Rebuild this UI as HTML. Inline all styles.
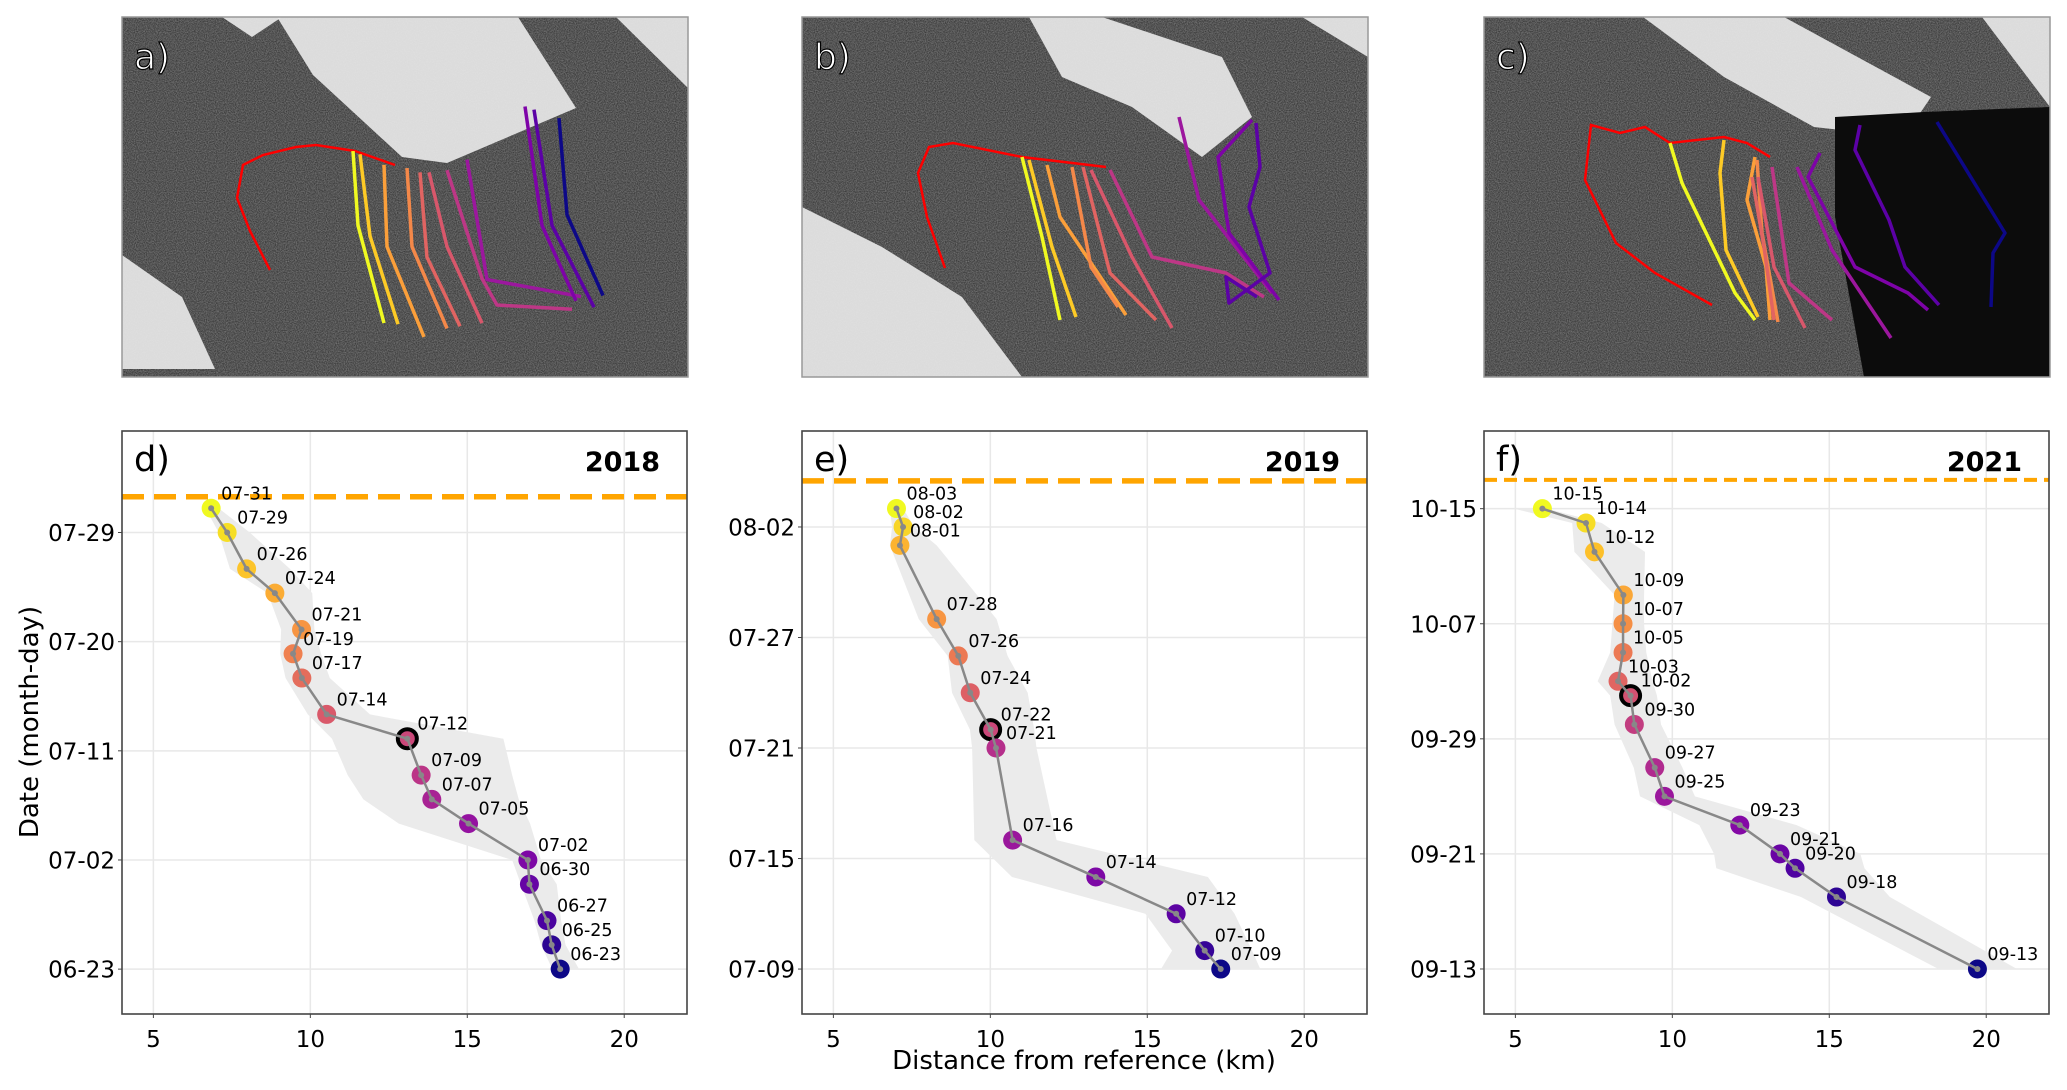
<!DOCTYPE html>
<html><head><meta charset="utf-8"><style>
html,body{margin:0;padding:0;background:#fff}
svg{display:block}
text{font-family:"DejaVu Sans","Liberation Sans",sans-serif}
</style></head><body>
<svg id="fig" width="2067" height="1090" viewBox="0 0 2067 1090" xmlns="http://www.w3.org/2000/svg">
<defs>
<filter id="grain" x="0" y="0" width="100%" height="100%">
<feTurbulence type="fractalNoise" baseFrequency="0.9" numOctaves="2" seed="3" result="n"/>
<feColorMatrix type="matrix" values="0 0 0 0 1  0 0 0 0 1  0 0 0 0 1  0 0 0 0.55 -0.12"/>
</filter>
<clipPath id="imgclip"><rect x="0" y="0" width="566" height="360"/></clipPath>
</defs>
<g id="images"></g>
<g id="charts"></g>
<text x="0" y="0" transform="translate(38,722) rotate(-90)" text-anchor="middle" font-size="26" fill="#000">Date (month-day)</text>
<text x="1084" y="1069" text-anchor="middle" font-size="26" fill="#000">Distance from reference (km)</text>
</svg>
<script>
// ---------- chart data ----------
const datesD = ["07-31","07-29","07-26","07-24","07-21","07-19","07-17","07-14","07-12","07-09","07-07","07-05","07-02","06-30","06-27","06-25","06-23"];
const distD  = [6.84,7.35,7.97,8.87,9.72,9.45,9.73,10.52,13.09,13.53,13.87,15.04,16.93,16.98,17.54,17.69,17.96];
const lowD   = [6.66,7.08,7.44,8.64,9.07,9.04,9.21,9.92,10.69,11.19,11.69,12.82,16.43,16.71,17.14,17.35,17.71];
const highD  = [7.08,8.07,9.35,10.06,10.13,10.34,10.62,11.9,16.15,16.43,16.64,17.0,17.35,17.85,17.99,18.13,18.56];
const ticksD = ["07-29","07-20","07-11","07-02","06-23"];

const datesE = ["08-03","08-02","08-01","07-28","07-26","07-24","07-22","07-21","07-16","07-14","07-12","07-10","07-09"];
const distE  = [7.01,7.22,7.12,8.29,8.98,9.36,10.01,10.18,10.71,13.36,15.92,16.83,17.34];
const lowE   = [6.80,6.87,6.80,7.72,8.64,8.78,9.35,9.42,9.49,10.69,14.94,15.79,15.44];
const highE  = [7.22,7.58,8.29,10.2,10.55,11.19,11.4,11.47,12.11,16.93,17.78,18.34,18.6];
const ticksE = ["08-02","07-27","07-21","07-15","07-09"];

const datesF = ["10-15","10-14","10-12","10-09","10-07","10-05","10-03","10-02","09-30","09-27","09-25","09-23","09-21","09-20","09-18","09-13"];
const distF  = [5.86,7.25,7.52,8.44,8.43,8.43,8.27,8.67,8.79,9.44,9.75,12.15,13.43,13.91,15.23,19.72];
const lowF   = [4.95,6.81,6.88,8.16,8.09,8.02,7.62,8.02,8.16,8.77,8.97,10.86,11.33,11.4,14.1,18.48];
const highF  = [6.0,7.75,9.13,9.1,9.1,9.17,9.37,9.51,9.64,10.32,10.72,13.96,15.99,16.12,16.93,20.98];
const ticksF = ["10-15","10-07","09-29","09-21","09-13"];

const xTicks = [5,10,15,20];
const xDomain = [4,22];

const NS="http://www.w3.org/2000/svg";
function mk(tag,attrs,parent){const e=document.createElementNS(NS,tag);for(const k in attrs)e.setAttribute(k,attrs[k]);if(parent)parent.appendChild(e);return e;}
function dayNum(year,md){const p=md.split("-");return Date.UTC(year,+p[0]-1,+p[1])/86400000;}
const plasmaStops=[[13,8,135],[84,2,163],[139,10,165],[185,50,137],[219,92,104],[244,136,73],[254,188,43],[240,249,33]];
function plasma(t){t=Math.max(0,Math.min(1,t));const s=t*(plasmaStops.length-1);const i=Math.min(Math.floor(s),plasmaStops.length-2);const f=s-i;const a=plasmaStops[i],b=plasmaStops[i+1];return "rgb("+a.map((v,k)=>Math.round(v+(b[k]-v)*f)).join(",")+")";}

const panels=[
 {id:"d",year:2018,x0:122,x1:687,dates:datesD,dist:distD,low:lowD,high:highD,ticks:ticksD,yTop:["07-29",8.37],yBot:["06-23",-3.7],dash:["07-29",2.95],dashW:5.5,dashA:"22 10",hl:"07-12"},
 {id:"e",year:2019,x0:802,x1:1367,dates:datesE,dist:distE,low:lowE,high:highE,ticks:ticksE,yTop:["08-02",5.21],yBot:["07-09",-2.44],dash:["08-02",2.5],dashW:5.5,dashA:"22 10",hl:"07-22"},
 {id:"f",year:2021,x0:1484,x1:2049,dates:datesF,dist:distF,low:lowF,high:highF,ticks:ticksF,yTop:["10-15",5.4],yBot:["09-13",-3.13],dash:["10-15",2.0],dashW:4,dashA:"13 7",hl:"10-02"}
];
const Y0=431,Y1=1014;
const charts=document.getElementById("charts");
panels.forEach(p=>{
 const g=mk("g",{},charts);
 
 
 const dTop=dayNum(p.year,p.yTop[0])+p.yTop[1], dBot=dayNum(p.year,p.yBot[0])+p.yBot[1];
 const sx=v=>p.x0+(v-xDomain[0])/(xDomain[1]-xDomain[0])*(p.x1-p.x0);
 const sy=md=>{const d=(typeof md==="number")?md:dayNum(p.year,md);return Y1-(d-dBot)/(dTop-dBot)*(Y1-Y0);};
 xTicks.forEach(t=>{const l=mk("line",{x1:sx(t),x2:sx(t),y1:Y0,y2:Y1,stroke:"#e8e8e8","stroke-width":1.5},g);
  });
 p.ticks.forEach(t=>{const l=mk("line",{x1:p.x0,x2:p.x1,y1:sy(t),y2:sy(t),stroke:"#e8e8e8","stroke-width":1.5},g);
  });
 const pts=[];p.dates.forEach((d,i)=>pts.push(sx(p.low[i])+","+sy(d)));
 for(let i=p.dates.length-1;i>=0;i--)pts.push(sx(p.high[i])+","+sy(p.dates[i]));
 const band=mk("polygon",{points:pts.join(" "),fill:"#ebebeb"},g);
 
 const dy=sy(dayNum(p.year,p.dash[0])+p.dash[1]);
 const dl=mk("line",{x1:p.x0,x2:p.x1,y1:dy,y2:dy,stroke:"#ffa500","stroke-width":p.dashW,"stroke-dasharray":p.dashA},g);
 
 const n=p.dates.length;
 p.dates.forEach((d,i)=>{
  const c=mk("circle",{cx:sx(p.dist[i]),cy:sy(d),r:9.5,fill:plasma(1-i/(n-1))},g);
  
  if(d===p.hl){const r=mk("circle",{cx:sx(p.dist[i]),cy:sy(d),r:9.5,fill:"none",stroke:"#000","stroke-width":4},g);
   }
 });
 const line=mk("polyline",{points:p.dates.map((d,i)=>sx(p.dist[i])+","+sy(d)).join(" "),fill:"none",stroke:"#888","stroke-width":2.5},g);
 
 p.dates.forEach((d,i)=>{
  const c=mk("circle",{cx:sx(p.dist[i]),cy:sy(d),r:3,fill:"#888"},g);
  
  const t=mk("text",{x:sx(p.dist[i])+10,y:sy(d)-9,"font-size":17.5,fill:"#000"},g);t.textContent=d;
  
 });
 const fr=mk("rect",{x:p.x0,y:Y0,width:p.x1-p.x0,height:Y1-Y0,fill:"none",stroke:"#444","stroke-width":1.6},g);
 
 xTicks.forEach(t=>{mk("line",{x1:sx(t),x2:sx(t),y1:Y1,y2:Y1+4,stroke:"#444","stroke-width":1},g);
  const tx=mk("text",{x:sx(t),y:Y1+33,"text-anchor":"middle","font-size":23,fill:"#000"},g);tx.textContent=t;
  });
 p.ticks.forEach(t=>{mk("line",{x1:p.x0-4,x2:p.x0,y1:sy(t),y2:sy(t),stroke:"#444","stroke-width":1},g);
  const tx=mk("text",{x:p.x0-7,y:sy(t)+8.5,"text-anchor":"end","font-size":23,fill:"#000"},g);tx.textContent=t;
  });
 const pl=mk("text",{x:p.x0+12,y:471,"font-size":35,fill:"#000"},g);pl.textContent=p.id+")";
 
 const yr=mk("text",{x:p.x1-27,y:471,"text-anchor":"end","font-size":27,"font-weight":"bold",fill:"#000"},g);yr.textContent=p.year;
 
});

// ---------- image panels (approximate imagery) ----------
const lineColors=["#f0f921","#fdca26","#fb9f3a","#f48849","#e16462","#d8576b","#bd3786","#9c179e","#7e03a8","#5c01a6","#0d0887"];
const imgs=[
 {id:"a",x0:122,ys:[1.062,-4],white:[[[155,0],[396,0],[454,91],[325,146],[280,140],[191,58]],[[494,0],[566,0],[566,71]],[[0,238],[60,280],[93,352],[0,352]],[[100,0],[160,0],[130,20]]],dark:[],
  red:[[148,253],[128,214],[115,181],[121,148],[141,138],[174,130],[194,128],[233,134],[273,148]],
  lines:[[[231,130],[236,200],[262,292]],[[238,133],[248,210],[276,293]],[[262,143],[265,220],[302,305]],[[285,146],[290,220],[325,297]],[[298,150],[305,230],[338,295]],[[307,150],[325,220],[360,292]],[[325,148],[360,250],[375,275],[450,279]],[[345,138],[365,251],[459,267]],[[403,88],[420,200],[454,271]],[[412,91],[430,200],[472,277]],[[437,99],[445,190],[481,266]]]},
 {id:"b",x0:802,ys:[1,0],white:[[[227,0],[300,0],[420,40],[450,100],[400,140],[330,90],[260,60]],[[0,190],[80,230],[160,280],[220,360],[0,360]],[[500,0],[566,0],[566,40]]],dark:[],
  red:[[143,251],[125,200],[116,156],[127,130],[151,126],[220,140],[304,150]],
  lines:[[[220,140],[240,220],[258,303]],[[227,143],[250,230],[274,300]],[[245,148],[258,200],[324,298]],[[270,150],[289,250],[316,290]],[[281,150],[308,256],[354,303]],[[289,153],[330,240],[370,311]],[[308,153],[350,240],[424,256],[462,280]],[[377,100],[397,183],[470,276]],[[450,103],[416,140],[427,216],[477,283]],[[454,106],[458,150],[447,190],[468,256],[427,286],[424,260],[455,280]]]},
 {id:"c",x0:1484,ys:[1,0],white:[[[159,0],[300,0],[447,80],[420,120],[330,110],[240,60]],[[498,0],[566,0],[566,90]]],dark:[[[351,100],[440,95],[566,90],[566,360],[380,360],[351,200]]],
  red:[[228,288],[171,256],[132,226],[101,163],[107,108],[136,116],[161,110],[186,126],[240,120],[263,126],[286,140]],
  lines:[[[186,126],[198,166],[251,276],[271,303]],[[240,123],[236,156],[242,233],[274,300]],[[271,140],[263,183],[282,250],[286,303]],[[273,143],[278,216],[294,305]],[[268,160],[280,230],[290,303]],[[274,160],[290,250],[321,311]],[[288,150],[305,266],[348,303]],[[313,150],[348,233],[407,321]],[[336,136],[324,160],[371,250],[424,276],[444,293]],[[376,108],[371,133],[405,203],[421,250],[455,288]],[[453,105],[521,216],[509,236],[507,290]]]}
];
const ig=document.getElementById("images");
imgs.forEach(im=>{
 const g=mk("g",{transform:"translate("+im.x0+",17)"},ig);
 
 const inner=mk("g",{"clip-path":"url(#imgclip)"},g);
 mk("rect",{x:0,y:0,width:566,height:360,fill:"#3a3a3a"},inner);
 mk("rect",{x:0,y:0,width:566,height:360,fill:"#000",filter:"url(#grain)",opacity:"0.9"},inner);
 im.white.forEach(w=>mk("polygon",{points:w.map(q=>q.join(",")).join(" "),fill:"#e8e8e8",opacity:"0.92"},inner));
 im.dark.forEach(w=>mk("polygon",{points:w.map(q=>q.join(",")).join(" "),fill:"#0c0c0c"},inner));
 const red=mk("polyline",{points:im.red.map(q=>q.join(",")).join(" "),fill:"none",stroke:"#ff0000","stroke-width":2.5},inner);
 
 const tl=q=>q[0]+","+(q[1]*im.ys[0]+im.ys[1]);
 im.lines.forEach((l,i)=>{const pl=mk("polyline",{points:l.map(tl).join(" "),fill:"none",stroke:lineColors[i],"stroke-width":3.5,"stroke-linejoin":"round"},inner);
  });
 mk("rect",{x:0,y:0,width:566,height:360,fill:"none",stroke:"#999","stroke-width":1.5},g);
 const t=mk("text",{x:12,y:52,"font-size":36,fill:"#fff",stroke:"#000","stroke-width":1.2},g);t.textContent=im.id+")";
 
});
</script>
</body></html>
